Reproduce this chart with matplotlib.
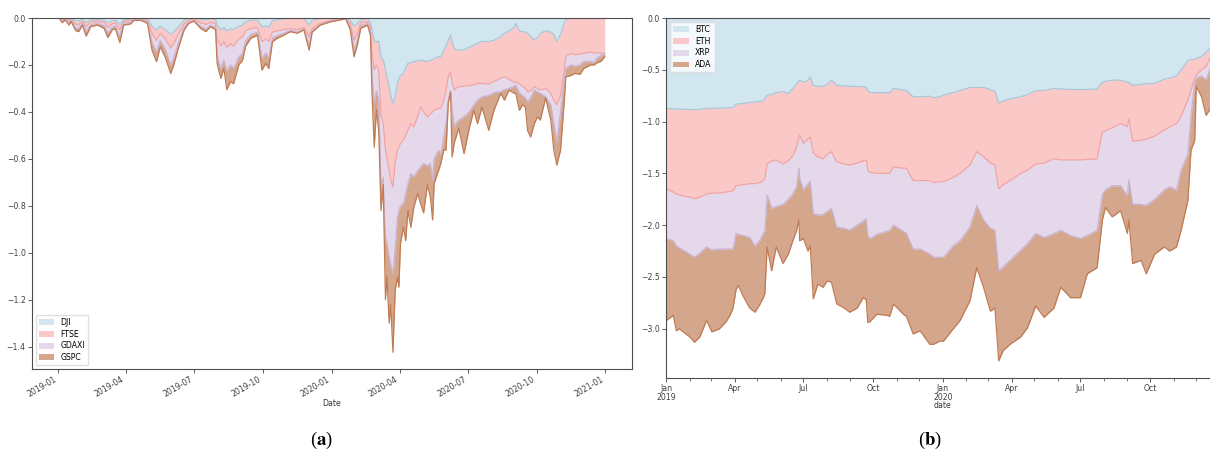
import numpy as np
import matplotlib
matplotlib.use("Agg")
import matplotlib.pyplot as plt
import matplotlib.dates as mdates
from matplotlib.patches import Patch
from matplotlib.ticker import FuncFormatter

plt.rcParams["mathtext.fontset"] = "stix"
plt.rcParams["axes.edgecolor"] = "0.3"
plt.rcParams["xtick.color"] = "0.25"
plt.rcParams["ytick.color"] = "0.25"

FS = 5.6  # tick / legend / label size (the original is a shrunk screenshot)

# ---------------- panel (a): stock index drawdowns (stacked) ----------------
idx_names = ["DJI", "FTSE", "GDAXI", "GSPC"]
idx_dates = [
    "2019-01-02", "2019-01-06", "2019-01-10", "2019-01-15", "2019-01-18", "2019-01-24", "2019-01-28",
    "2019-02-02", "2019-02-07", "2019-02-13", "2019-02-22", "2019-03-03", "2019-03-08", "2019-03-14",
    "2019-03-18", "2019-03-24", "2019-03-29", "2019-04-07", "2019-04-12", "2019-04-21", "2019-04-30",
    "2019-05-06", "2019-05-12", "2019-05-17", "2019-05-24", "2019-05-31", "2019-06-04", "2019-06-11",
    "2019-06-18", "2019-06-24", "2019-07-01", "2019-07-10", "2019-07-17", "2019-07-23", "2019-07-30",
    "2019-08-01", "2019-08-06", "2019-08-10", "2019-08-14", "2019-08-19", "2019-08-23", "2019-08-30",
    "2019-09-04", "2019-09-08", "2019-09-15", "2019-09-24", "2019-09-30", "2019-10-05", "2019-10-09",
    "2019-10-14", "2019-10-20", "2019-10-29", "2019-11-07", "2019-11-16", "2019-11-25", "2019-12-02",
    "2019-12-06", "2019-12-17", "2019-12-31",
    "2020-01-11", "2020-01-20", "2020-01-26", "2020-01-31", "2020-02-04", "2020-02-09", "2020-02-18",
    "2020-02-22", "2020-02-24", "2020-02-27", "2020-03-01", "2020-03-04", "2020-03-07", "2020-03-10",
    "2020-03-12", "2020-03-13", "2020-03-15", "2020-03-18", "2020-03-20", "2020-03-23", "2020-03-26",
    "2020-03-29", "2020-03-31", "2020-04-02", "2020-04-06", "2020-04-09", "2020-04-12", "2020-04-16",
    "2020-04-20", "2020-04-25", "2020-04-29", "2020-05-03", "2020-05-08", "2020-05-12", "2020-05-15",
    "2020-05-17", "2020-05-23", "2020-05-26", "2020-05-30", "2020-06-02", "2020-06-05", "2020-06-08",
    "2020-06-10", "2020-06-13", "2020-06-15", "2020-06-19", "2020-06-26", "2020-07-03", "2020-07-09",
    "2020-07-14", "2020-07-20", "2020-07-29", "2020-08-05", "2020-08-14", "2020-08-19", "2020-08-25",
    "2020-09-01", "2020-09-03", "2020-09-08", "2020-09-12", "2020-09-16", "2020-09-19", "2020-09-23",
    "2020-09-28", "2020-10-02", "2020-10-06", "2020-10-13", "2020-10-20", "2020-10-24", "2020-10-28",
    "2020-11-02", "2020-11-07", "2020-11-09", "2020-11-16", "2020-11-21", "2020-11-28", "2020-12-03",
    "2020-12-12", "2020-12-17", "2020-12-21", "2020-12-26", "2020-12-31",
]
dji = [
    0, -0.005, -0.002, -0.006, -0.003, -0.012, -0.013, -0.006, -0.018, -0.008,
    -0.006, -0.01, -0.02, -0.012, -0.01, -0.028, -0.007, -0.006, -0.002, -0.002,
    -0.005, -0.035, -0.05, -0.035, -0.05, -0.07, -0.06, -0.035, -0.01, -0.003,
    -0.001, -0.005, -0.008, -0.004, -0.006, -0.03, -0.05, -0.04, -0.055, -0.045,
    -0.05, -0.035, -0.03, -0.015, -0.01, -0.008, -0.04, -0.035, -0.04, -0.012,
    -0.008, -0.003, -0.001, -0.002, -0.001, -0.03, -0.01, -0.002, -0.001,
    0, 0, -0.01, -0.035, -0.025,
    -0.008, -0.002, -0.02, -0.05, -0.1,
    -0.1, -0.1, -0.165, -0.18, -0.2,
    -0.222, -0.25, -0.293, -0.33, -0.364,
    -0.336, -0.279, -0.26, -0.245, -0.236,
    -0.215, -0.193, -0.19, -0.186, -0.183,
    -0.179, -0.182, -0.186, -0.18, -0.178,
    -0.172, -0.165, -0.165, -0.137, -0.12,
    -0.094, -0.073, -0.1, -0.13, -0.135,
    -0.137, -0.135, -0.125, -0.115, -0.108,
    -0.1, -0.1, -0.095, -0.08, -0.065,
    -0.055, -0.04, -0.022, -0.055, -0.058,
    -0.06, -0.065, -0.08, -0.094, -0.085,
    -0.065, -0.055, -0.06, -0.07, -0.101,
    -0.07, -0.02, -0.006, 0, 0,
    0, 0, 0, 0, 0,
    0, 0,
]
ftse = [
    0, -0.005, -0.002, -0.008, -0.004, -0.014, -0.015, -0.008, -0.018, -0.009,
    -0.008, -0.01, -0.02, -0.012, -0.012, -0.022, -0.007, -0.006, -0.002, -0.003,
    -0.006, -0.03, -0.045, -0.03, -0.04, -0.058, -0.05, -0.03, -0.015, -0.007,
    -0.004, -0.015, -0.02, -0.014, -0.018, -0.06, -0.07, -0.06, -0.07, -0.065,
    -0.07, -0.055, -0.05, -0.04, -0.035, -0.032, -0.06, -0.055, -0.06, -0.048,
    -0.047, -0.047, -0.044, -0.048, -0.039, -0.05, -0.035, -0.02, -0.009,
    -0.005, -0.002, -0.015, -0.06, -0.045,
    -0.012, -0.013, -0.02, -0.1, -0.12,
    -0.1, -0.12, -0.245, -0.27, -0.32,
    -0.341, -0.35, -0.357, -0.36, -0.356,
    -0.284, -0.284, -0.29, -0.29, -0.284,
    -0.285, -0.285, -0.26, -0.278, -0.237,
    -0.2, -0.218, -0.235, -0.23, -0.222,
    -0.221, -0.22, -0.22, -0.213, -0.19,
    -0.156, -0.156, -0.17, -0.177, -0.165,
    -0.156, -0.155, -0.163, -0.17, -0.171,
    -0.178, -0.182, -0.175, -0.177, -0.185,
    -0.205, -0.235, -0.248, -0.225, -0.232,
    -0.24, -0.249, -0.23, -0.199, -0.215,
    -0.242, -0.245, -0.26, -0.28, -0.269,
    -0.26, -0.2, -0.159, -0.151, -0.155,
    -0.155, -0.15, -0.145, -0.15, -0.148,
    -0.15, -0.151,
]
gdaxi = [
    0, -0.005, -0.002, -0.008, -0.004, -0.016, -0.017, -0.008, -0.022, -0.011,
    -0.008, -0.013, -0.023, -0.014, -0.012, -0.03, -0.008, -0.007, -0.003, -0.002,
    -0.006, -0.04, -0.05, -0.03, -0.045, -0.072, -0.06, -0.035, -0.015, -0.008,
    -0.005, -0.015, -0.02, -0.012, -0.016, -0.07, -0.095, -0.08, -0.1, -0.09,
    -0.095, -0.075, -0.07, -0.045, -0.025, -0.02, -0.07, -0.06, -0.07, -0.025,
    -0.02, -0.015, -0.008, -0.01, -0.007, -0.035, -0.01, -0.005, -0.003,
    -0.002, -0.001, -0.015, -0.04, -0.03,
    -0.013, -0.007, -0.015, -0.1, -0.14,
    -0.11, -0.13, -0.31, -0.23, -0.36,
    -0.367, -0.36, -0.37, -0.36, -0.37,
    -0.36, -0.287, -0.27, -0.265, -0.27,
    -0.25, -0.228, -0.213, -0.213, -0.23,
    -0.256, -0.22, -0.209, -0.21, -0.29,
    -0.207, -0.178, -0.195, -0.157, -0.14,
    -0.1, -0.081, -0.123, -0.157, -0.15,
    -0.142, -0.13, -0.112, -0.085, -0.071,
    -0.058, -0.048, -0.048, -0.057, -0.055,
    -0.04, -0.015, -0.015, -0.04, -0.04,
    -0.04, -0.043, -0.03, -0.014, -0.015,
    -0.014, -0.035, -0.05, -0.1, -0.158,
    -0.07, -0.04, -0.05, -0.049, -0.05,
    -0.045, -0.036, -0.04, -0.04, -0.022,
    -0.01, 0,
]
gspc = [
    0, -0.005, -0.002, -0.008, -0.004, -0.012, -0.013, -0.008, -0.019, -0.009,
    -0.008, -0.011, -0.02, -0.012, -0.011, -0.024, -0.008, -0.007, -0.003, -0.003,
    -0.006, -0.032, -0.041, -0.027, -0.035, -0.036, -0.03, -0.02, -0.01, -0.005,
    -0.003, -0.009, -0.01, -0.007, -0.01, -0.033, -0.042, -0.035, -0.08, -0.07,
    -0.065, -0.035, -0.03, -0.02, -0.017, -0.013, -0.052, -0.043, -0.045, -0.016,
    -0.012, -0.008, -0.005, -0.005, -0.003, -0.022, -0.005, -0.003, -0.003,
    -0.002, -0.001, -0.011, -0.03, -0.02,
    -0.011, -0.008, -0.02, -0.07, -0.19,
    -0.08, -0.13, -0.1, -0.03, -0.17,
    -0.27, -0.14, -0.28, -0.17, -0.334,
    -0.18, -0.254, -0.327, -0.162, -0.101,
    -0.198, -0.114, -0.228, -0.128, -0.098,
    -0.156, -0.21, -0.08, -0.142, -0.17,
    -0.106, -0.086, -0.04, -0.053, -0.113,
    -0.01, -0.005, -0.199, -0.066, -0.06,
    -0.035, -0.158, -0.07, -0.023, -0.1,
    -0.044, -0.148, -0.075, -0.007, -0.045,
    -0.007, -0.031, -0.035, -0.073, -0.04,
    -0.04, -0.123, -0.167, -0.143, -0.106,
    -0.114, -0.005, -0.065, -0.113, -0.099,
    -0.163, -0.09, -0.035, -0.045, -0.031,
    -0.04, -0.029, -0.015, -0.01, -0.02,
    -0.025, -0.014,
]

# ---------------- panel (b): crypto drawdowns (stacked) ----------------
coin_names = ["BTC", "ETH", "XRP", "ADA"]
coin_dates = [
    "2019-01-01", "2019-01-10", "2019-01-14", "2019-01-18", "2019-02-01", "2019-02-07", "2019-02-14",
    "2019-02-23", "2019-03-02", "2019-03-12", "2019-03-21", "2019-03-26", "2019-03-30", "2019-04-03",
    "2019-04-06", "2019-04-12", "2019-04-21", "2019-04-28", "2019-05-04", "2019-05-09", "2019-05-11",
    "2019-05-14", "2019-05-20", "2019-05-26", "2019-06-04", "2019-06-11", "2019-06-17", "2019-06-22",
    "2019-06-25", "2019-06-26", "2019-07-01", "2019-07-07", "2019-07-10", "2019-07-14", "2019-07-20",
    "2019-07-27", "2019-08-01", "2019-08-07", "2019-08-14", "2019-08-24", "2019-08-31", "2019-09-10",
    "2019-09-18", "2019-09-22", "2019-09-24", "2019-09-27", "2019-10-06", "2019-10-19", "2019-10-23",
    "2019-10-28", "2019-11-10", "2019-11-14", "2019-11-23", "2019-12-02", "2019-12-15", "2019-12-20",
    "2019-12-28", "2020-01-02", "2020-01-15", "2020-01-24", "2020-02-06", "2020-02-15", "2020-02-24",
    "2020-03-04", "2020-03-10", "2020-03-15", "2020-03-21", "2020-03-30", "2020-04-13", "2020-04-22",
    "2020-05-03", "2020-05-14", "2020-05-27", "2020-06-05", "2020-06-18", "2020-07-01", "2020-07-10",
    "2020-07-23", "2020-07-30", "2020-08-03", "2020-08-12", "2020-08-23", "2020-09-01", "2020-09-03",
    "2020-09-08", "2020-09-19", "2020-09-26", "2020-10-07", "2020-10-20", "2020-10-27", "2020-11-05",
    "2020-11-11", "2020-11-20", "2020-11-24", "2020-11-29", "2020-12-01", "2020-12-08", "2020-12-14",
    "2020-12-21", "2020-12-31",
]
btc = [
    -0.874, -0.876, -0.878, -0.88, -0.884, -0.885, -0.88, -0.874, -0.872, -0.87,
    -0.868, -0.866, -0.865, -0.83, -0.83, -0.825, -0.815, -0.81, -0.805, -0.8,
    -0.78, -0.745, -0.74, -0.72, -0.71, -0.73, -0.68, -0.64, -0.6, -0.6,
    -0.62, -0.6, -0.57, -0.65, -0.66, -0.66, -0.64, -0.6, -0.65, -0.655,
    -0.66, -0.66, -0.665, -0.67, -0.7, -0.72, -0.72, -0.72, -0.72, -0.68,
    -0.695, -0.7, -0.76, -0.76, -0.755, -0.77, -0.76, -0.745, -0.72, -0.7,
    -0.67, -0.67, -0.67, -0.69, -0.71, -0.82, -0.8, -0.78, -0.76, -0.74,
    -0.7, -0.7, -0.68, -0.685, -0.69, -0.69, -0.69, -0.685, -0.62, -0.61,
    -0.6, -0.6, -0.62, -0.62, -0.65, -0.64, -0.635, -0.63, -0.59, -0.58,
    -0.56, -0.5, -0.41, -0.4, -0.4, -0.39, -0.37, -0.33, -0.28, -0.2,
]
eth = [
    -0.776, -0.804, -0.822, -0.83, -0.846, -0.86, -0.85, -0.826, -0.818, -0.82,
    -0.812, -0.809, -0.8, -0.79, -0.785, -0.785, -0.785, -0.79, -0.785, -0.77,
    -0.77, -0.665, -0.64, -0.65, -0.7, -0.65, -0.65, -0.61, -0.55, -0.53,
    -0.59, -0.57, -0.58, -0.65, -0.68, -0.7, -0.68, -0.69, -0.74, -0.755,
    -0.76, -0.74, -0.715, -0.7, -0.77, -0.77, -0.78, -0.78, -0.78, -0.76,
    -0.755, -0.75, -0.81, -0.81, -0.815, -0.82, -0.82, -0.835, -0.82, -0.8,
    -0.75, -0.62, -0.67, -0.71, -0.71, -0.83, -0.81, -0.79, -0.74, -0.73,
    -0.71, -0.7, -0.68, -0.685, -0.68, -0.68, -0.675, -0.675, -0.48, -0.48,
    -0.46, -0.42, -0.43, -0.35, -0.54, -0.54, -0.535, -0.51, -0.49, -0.47,
    -0.46, -0.45, -0.38, -0.3, -0.18, -0.16, -0.13, -0.14, -0.08, -0.1,
]
xrp = [
    -0.48, -0.47, -0.5, -0.51, -0.55, -0.565, -0.54, -0.51, -0.55, -0.54,
    -0.55, -0.555, -0.565, -0.46, -0.475, -0.49, -0.52, -0.6, -0.56, -0.51,
    -0.51, -0.3, -0.46, -0.45, -0.39, -0.37, -0.37, -0.38, -0.3, -0.42,
    -0.45, -0.43, -0.43, -0.59, -0.56, -0.54, -0.55, -0.55, -0.63, -0.62,
    -0.63, -0.6, -0.58, -0.57, -0.63, -0.64, -0.59, -0.56, -0.55, -0.56,
    -0.61, -0.63, -0.66, -0.66, -0.71, -0.72, -0.73, -0.73, -0.66, -0.65,
    -0.6, -0.52, -0.61, -0.63, -0.63, -0.79, -0.79, -0.77, -0.74, -0.71,
    -0.67, -0.72, -0.72, -0.68, -0.73, -0.76, -0.735, -0.69, -0.6, -0.57,
    -0.56, -0.6, -0.67, -0.59, -0.61, -0.62, -0.64, -0.61, -0.58, -0.58,
    -0.64, -0.52, -0.52, -0.25, -0.04, -0.03, -0.06, -0.13, -0.1, -0.08,
]
ada = [
    -0.79, -0.72, -0.82, -0.78, -0.8, -0.82, -0.81, -0.71, -0.79, -0.77,
    -0.7, -0.64, -0.57, -0.54, -0.49, -0.58, -0.68, -0.64, -0.62, -0.62,
    -0.6, -0.5, -0.6, -0.39, -0.57, -0.53, -0.45, -0.42, -0.5, -0.6,
    -0.47, -0.65, -0.62, -0.82, -0.67, -0.7, -0.67, -0.71, -0.74, -0.77,
    -0.79, -0.8, -0.74, -0.78, -0.84, -0.8, -0.77, -0.81, -0.83, -0.76,
    -0.8, -0.8, -0.82, -0.79, -0.87, -0.84, -0.81, -0.81, -0.8, -0.77,
    -0.71, -0.6, -0.65, -0.8, -0.75, -0.87, -0.81, -0.81, -0.84, -0.81,
    -0.7, -0.77, -0.72, -0.55, -0.6, -0.57, -0.37, -0.36, -0.25, -0.17,
    -0.3, -0.24, -0.36, -0.39, -0.57, -0.54, -0.66, -0.53, -0.55, -0.62,
    -0.55, -0.58, -0.45, -0.33, -0.56, -0.08, -0.2, -0.34, -0.4, -0.32,
]

# layer colours: fill (as seen, light) and the slightly darker edge line
FILLS = ["#d2e6ef", "#fbc8c8", "#e4d8ea", "#d4a68c"]
LINES = ["#a9c7d7", "#f0a4a4", "#c9b3d3", "#c07b53"]


def stacked_area(ax, dates, series, names):
    x = np.array(dates, dtype="datetime64[D]")
    cum = np.cumsum(np.vstack(series), axis=0)
    prev = np.zeros(len(x))
    for i, name in enumerate(names):
        ax.fill_between(x, prev, cum[i], color=FILLS[i], lw=0, zorder=1)
        prev = cum[i]
    for i in range(len(names)):
        ax.plot(x, cum[i], color=LINES[i], lw=0.9, zorder=2)
    return x


def legend(ax, names, loc):
    handles = [Patch(facecolor=FILLS[i], edgecolor="none", label=n) for i, n in enumerate(names)]
    ax.legend(handles=handles, loc=loc, fontsize=FS, handlelength=2.0, handleheight=0.8,
              borderpad=0.4, labelspacing=0.35, framealpha=0.8, edgecolor="0.85")


fig = plt.figure(figsize=(12.10, 4.55), dpi=100, facecolor="white")

# ---- (a)
axa = fig.add_axes([0.0264, 0.189, 0.4959, 0.7714])
stacked_area(axa, idx_dates, [dji, ftse, gdaxi, gspc], idx_names)
axa.set_ylim(top=0)
axa.set_yticks([0.0, -0.2, -0.4, -0.6, -0.8, -1.0, -1.2, -1.4])
axa.yaxis.set_major_formatter(FuncFormatter(lambda v, p: f"{v:.1f}".replace("-", "\u2212")))
axa.xaxis.set_major_locator(mdates.MonthLocator(bymonth=[1, 4, 7, 10]))
axa.xaxis.set_major_formatter(mdates.DateFormatter("%Y-%m"))
for lab in axa.get_xticklabels():
    lab.set_rotation(30)
    lab.set_ha("right")
axa.tick_params(labelsize=FS, length=3, width=0.6, pad=1.5)
axa.set_xlabel("Date", fontsize=FS, labelpad=0, color="0.2")
legend(axa, idx_names, "lower left")

# ---- (b)  (the right end of this panel runs past the figure edge, as in the source)
axb = fig.add_axes([0.5508, 0.1692, 0.4566, 0.7912])
xb = stacked_area(axb, coin_dates, [btc, eth, xrp, ada], coin_names)
axb.set_xlim(xb[0], xb[-1])
axb.set_ylim(top=0)
axb.set_yticks([0.0, -0.5, -1.0, -1.5, -2.0, -2.5, -3.0])
axb.yaxis.set_major_formatter(FuncFormatter(lambda v, p: f"{v:.1f}".replace("-", "\u2212")))
axb.xaxis.set_major_locator(mdates.MonthLocator(bymonth=[1, 4, 7, 10]))
axb.xaxis.set_minor_locator(mdates.MonthLocator())


def month_fmt(v, p):
    d = mdates.num2date(v)
    return d.strftime("%b\n%Y") if d.month == 1 else d.strftime("%b")


axb.xaxis.set_major_formatter(FuncFormatter(month_fmt))
axb.tick_params(labelsize=FS, length=3, width=0.6, pad=1.5)
axb.tick_params(axis="x", which="minor", length=2, width=0.5)
axb.set_xlabel("date", fontsize=FS, labelpad=-1, color="0.2")
legend(axb, coin_names, "upper left")

# sub-figure captions
fig.text(0.266, 0.031, r"($\mathbf{a}$)", ha="center", va="center", fontsize=13.5,
         family="Liberation Serif")
fig.text(0.769, 0.031, r"($\mathbf{b}$)", ha="center", va="center", fontsize=13.5,
         family="Liberation Serif")

fig.canvas.draw()
for lab in axb.get_xticklabels():
    lab.set_linespacing(1.0)

fig.savefig("out.png", dpi=100, facecolor="white")
